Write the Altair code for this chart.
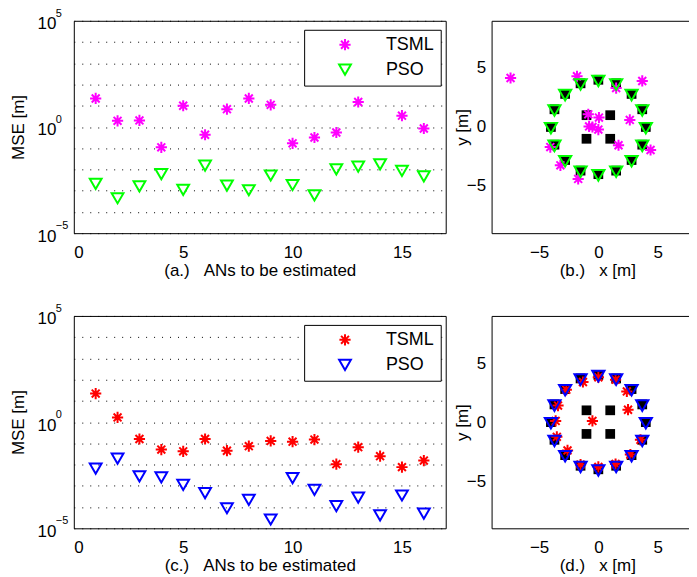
import altair as alt
import pandas as pd

FONT = "Liberation Sans"
ASTER = "M-0.95,0L0.95,0M0,-0.95L0,0.95M-0.67,-0.67L0.67,0.67M-0.67,0.67L0.67,-0.67"
NB = "\u00a0"

methods = ["TSML", "PSO"]

# ---- panel (a): MSE per AN, scenario 1
a_tsml_an = [1, 2, 3, 4, 5, 6, 7, 8, 9, 10, 11, 12, 13, 15, 16]
a_tsml_mse = [22, 1.95, 2.04, 0.11, 10, 0.43, 6.9, 22, 11, 0.17, 0.32, 0.55, 15, 3.4, 0.85]
a_pso_an = [1, 2, 3, 4, 5, 6, 7, 8, 9, 10, 11, 12, 13, 14, 15, 16]
a_pso_mse = [2.1e-3, 4.4e-4, 1.6e-3, 6.0e-3, 1.1e-3, 1.5e-2, 1.75e-3, 1.05e-3, 5.2e-3, 1.85e-3,
             6.0e-4, 1.0e-2, 1.35e-2, 1.75e-2, 8.5e-3, 4.7e-3]

# ---- panel (c): MSE per AN, scenario 2
c_tsml_an = [1, 2, 3, 4, 5, 6, 7, 8, 9, 10, 11, 12, 13, 14, 15, 16]
c_tsml_mse = [22, 1.66, 0.16, 0.051, 0.042, 0.16, 0.045, 0.074, 0.13, 0.12, 0.15, 0.0105,
              0.066, 0.025, 0.0076, 0.0155]
c_pso_an = [1, 2, 3, 4, 5, 6, 7, 8, 9, 10, 11, 12, 13, 14, 15, 16]
c_pso_mse = [6.4e-3, 1.9e-2, 2.8e-3, 2.5e-3, 1.1e-3, 4.5e-4, 8.8e-5, 2.2e-4, 2.6e-5, 2.3e-3,
             6.4e-4, 1.1e-4, 2.8e-4, 4.1e-5, 3.5e-4, 4.9e-5]

# ---- anchors / true positions (panels b, d)
ring_x = [0, 1.5, 2.8, 3.7, 4, 3.7, 2.8, 1.5, 0, -1.5, -2.8, -3.7, -4, -3.7, -2.8, -1.5]
ring_y = [4, 3.7, 2.8, 1.5, 0, -1.5, -2.8, -3.7, -4, -3.7, -2.8, -1.5, 0, 1.5, 2.8, 3.7]
inner_x = [-1, 1, -1, 1]
inner_y = [1, 1, -1, -1]

# ---- panel (b) estimates
b_tsml_x = [-7.4, -1.8, 1.5, 3.7, -0.85, 0.05, 2.65, -0.78, -0.5, 0.0, 1.7, 4.4, -4.05, -3.2, -1.7]
b_tsml_y = [4.15, 4.3, 3.3, 3.9, 1.07, 0.8, 0.6, 0.05, 0.0, -0.22, -1.55, -1.95, -1.7, -3.25, -4.4]
b_pso_x = [0, 1.5, 2.8, 3.7, 4, 3.7, 2.8, 1.5, 0, -1.5, -2.8, -3.7, -4, -3.7, -2.8, -1.5]
b_pso_y = [3.9, 3.6, 2.7, 1.4, -0.1, -1.6, -2.9, -3.8, -4.1, -3.8, -2.9, -1.6, -0.1, 1.4, 2.7, 3.6]

# ---- panel (d) estimates
d_tsml_x = [0, 1.45, 2.4, 2.5, 3.55, 2.7, 1.45, 0, -1.5, -2.6, -3.5, -3.6, -3.4, -2.7, -1.3, -0.5]
d_tsml_y = [3.8, 3.6, 2.6, 1.05, -1.5, -2.75, -3.55, -3.8, -3.6, -2.4, -1.25, 0.1, 1.4, 2.75, 3.4, 0.1]
d_pso_x = [0, 1.5, 2.8, 3.7, 4, 3.7, 2.8, 1.5, 0, -1.5, -2.8, -3.7, -4, -3.7, -2.8, -1.5]
d_pso_y = [3.9, 3.6, 2.7, 1.4, -0.1, -1.6, -2.9, -3.8, -4.1, -3.8, -2.9, -1.6, -0.1, 1.4, 2.7, 3.6]

decades = [1e-5, 1e-4, 1e-3, 1e-2, 1e-1, 1e0, 1e1, 1e2, 1e3, 1e4, 1e5]
label_decades = [1e5, 1e0, 1e-5]
label_exps = ["5", "0", "\u22125"]
LEXPR = "abs(round(log(datum.value)/LN10)) % 5 == 0 ? '10' : ''"

W_A, H = 373, 213
W_B = 198


def mse_panel(t_an, t_mse, p_an, p_mse, colors, label):
    df = pd.concat([
        pd.DataFrame({"an": t_an, "mse": t_mse, "method": "TSML"}),
        pd.DataFrame({"an": p_an, "mse": p_mse, "method": "PSO"}),
    ])
    exp_df = pd.DataFrame({"mse": label_decades, "exp": label_exps})
    leg = alt.Legend(orient="none", legendX=231, legendY=9, title=None,
                     fillColor="white", strokeColor="black", padding=6,
                     symbolOffset=26, labelOffset=32, rowPadding=5,
                     labelFontSize=18, labelFont=FONT, labelColor="black",
                     symbolSize=140, symbolStrokeWidth=2)
    xenc = alt.X("an:Q", scale=alt.Scale(domain=[0, 17], nice=False, zero=False),
                 axis=alt.Axis(values=[0, 5, 10, 15], title=label, grid=False, ticks=False,
                               domain=False, labelPadding=11, titlePadding=2))
    yenc = alt.Y("mse:Q", scale=alt.Scale(type="log", domain=[1e-5, 1e5], nice=False),
                 axis=alt.Axis(values=decades, labelExpr=LEXPR, grid=True, gridDash=[1, 7],
                               gridColor="black", gridOpacity=1, ticks=False, domain=False,
                               title="MSE [m]", labelPadding=18, labelOffset=3,
                               titlePadding=10))
    pts = alt.Chart(df).mark_point(filled=False, strokeWidth=2, opacity=1, size=140).encode(
        x=xenc, y=yenc,
        color=alt.Color("method:N", scale=alt.Scale(domain=methods, range=colors), legend=leg),
        shape=alt.Shape("method:N", scale=alt.Scale(domain=methods, range=[ASTER, "triangle-down"]),
                        legend=leg),
    )
    exps = alt.Chart(exp_df).mark_text(align="left", baseline="middle", fontSize=11, dy=-7,
                                       font=FONT, color="black").encode(
        x=alt.value(-18), y=yenc, text="exp:N")
    return alt.layer(pts, exps).properties(
        width=W_A, height=H, view=alt.ViewBackground(stroke="black", strokeWidth=1))


def pos_panel(t_x, t_y, p_x, p_y, colors, label):
    sq_df = pd.DataFrame({"x": ring_x + inner_x, "y": ring_y + inner_y})
    t_df = pd.DataFrame({"x": t_x, "y": t_y})
    p_df = pd.DataFrame({"x": p_x, "y": p_y})
    xs = alt.Scale(domain=[-9, 7.64], nice=False, zero=False)
    ys = alt.Scale(domain=[-9, 9], nice=False, zero=False)
    yenc = alt.Y("y:Q", scale=ys,
                 axis=alt.Axis(values=[-5, 0, 5], title="y [m]", grid=False, ticks=False,
                               domain=True, domainColor="black", labelPadding=6,
                               titlePadding=1, titleX=-20))
    sq = alt.Chart(sq_df).mark_square(color="black", size=95, opacity=1).encode(
        x=alt.X("x:Q", scale=xs,
                axis=alt.Axis(values=[-5, 0, 5], title=label, grid=False, ticks=False,
                              domain=True, domainColor="black", labelPadding=11,
                              titlePadding=2, titleX=106)),
        y=yenc)
    ts = alt.Chart(t_df).mark_point(shape=ASTER, filled=False, color=colors[0], strokeWidth=2,
                                    size=140, opacity=1).encode(
        x=alt.X("x:Q", scale=xs, axis=None), y=yenc)
    ps = alt.Chart(p_df).mark_point(shape="triangle-down", filled=False, color=colors[1],
                                    strokeWidth=2, size=150, opacity=1).encode(
        x=alt.X("x:Q", scale=xs,
                axis=alt.Axis(orient="top", labels=False, ticks=False, title=None, grid=False,
                              domain=True, domainColor="black")),
        y=yenc)
    return alt.layer(sq, ts, ps).resolve_axis(x="independent").properties(
        width=W_B, height=H, view=alt.ViewBackground(strokeOpacity=0))


pa = mse_panel(a_tsml_an, a_tsml_mse, a_pso_an, a_pso_mse, ["#ff00ff", "#00ff00"],
               "(a.)" + NB * 3 + "ANs to be estimated")
pb = pos_panel(b_tsml_x, b_tsml_y, b_pso_x, b_pso_y, ["#ff00ff", "#00ff00"],
               "(b.)" + NB * 3 + "x [m]")
pc = mse_panel(c_tsml_an, c_tsml_mse, c_pso_an, c_pso_mse, ["#ff0000", "#0000ff"],
               "(c.)" + NB * 3 + "ANs to be estimated")
pd_ = pos_panel(d_tsml_x, d_tsml_y, d_pso_x, d_pso_y, ["#ff0000", "#0000ff"],
                "(d.)" + NB * 3 + "x [m]")

chart = alt.vconcat(
    alt.hconcat(pa, pb, spacing=7),
    alt.hconcat(pc, pd_, spacing=7),
    spacing=23,
).resolve_scale(color="independent", shape="independent").resolve_legend(
    color="independent", shape="independent"
).configure(
    font=FONT, background="white",
    padding={"top": -2, "left": 0, "right": 0, "bottom": 0},
).configure_axis(
    labelFont=FONT, titleFont=FONT, labelFontSize=17, titleFontSize=17,
    labelColor="black", titleColor="black", titleFontWeight="normal"
)

chart.save("out.html", embed_options={"renderer": "svg", "actions": False})
